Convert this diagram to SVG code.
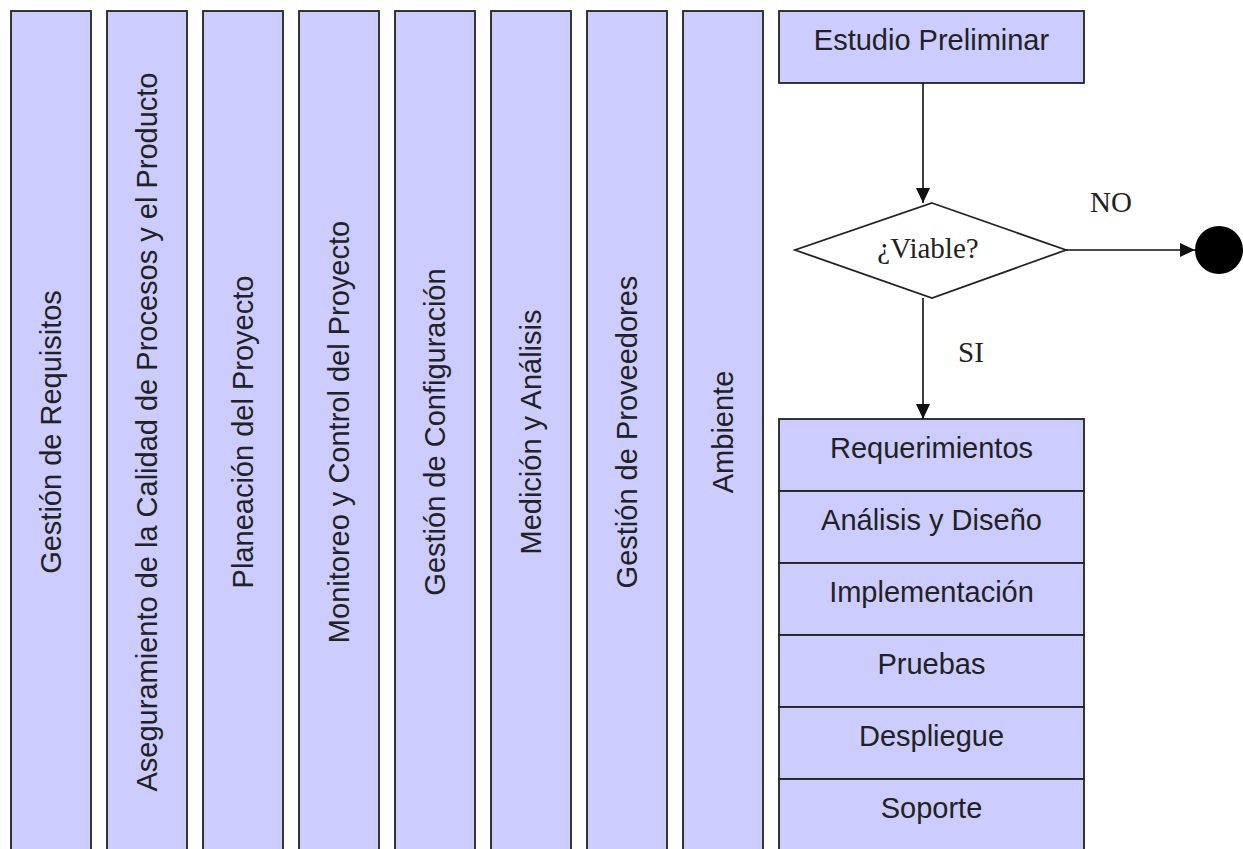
<svg xmlns="http://www.w3.org/2000/svg" width="1243" height="849" viewBox="0 0 1243 849">
<style>
.box{fill:#ccccff;stroke:#222;stroke-width:1.8}
.lbl{font-family:"Liberation Sans",Arial,sans-serif;font-size:29px;fill:#222;text-anchor:middle}
.ser{font-family:"Liberation Serif","Times New Roman",serif;font-size:29px;fill:#222;text-anchor:middle}
.conn{stroke:#111;stroke-width:1.6;fill:none}
</style>
<defs>
<marker id="arrBig" viewBox="0 0 15 14" refX="15" refY="7" markerWidth="15" markerHeight="14" markerUnits="userSpaceOnUse" orient="auto">
<path d="M0,0 L15,7 L0,14 z" fill="#111"/>
</marker>
</defs>
<rect width="1243" height="849" fill="#fff"/>
<g id="col1"><rect class="box" x="11" y="11" width="80" height="850"/><text class="lbl" transform="translate(61,432) rotate(-90)">Gestión de Requisitos</text></g>
<g id="col2"><rect class="box" x="107" y="11" width="80" height="850"/><text class="lbl" transform="translate(157,432) rotate(-90)">Aseguramiento de la Calidad de Procesos y el Producto</text></g>
<g id="col3"><rect class="box" x="203" y="11" width="80" height="850"/><text class="lbl" transform="translate(253,432) rotate(-90)">Planeación del Proyecto</text></g>
<g id="col4"><rect class="box" x="299" y="11" width="80" height="850"/><text class="lbl" transform="translate(349,432) rotate(-90)">Monitoreo y Control del Proyecto</text></g>
<g id="col5"><rect class="box" x="395" y="11" width="80" height="850"/><text class="lbl" transform="translate(445,432) rotate(-90)">Gestión de Configuración</text></g>
<g id="col6"><rect class="box" x="491" y="11" width="80" height="850"/><text class="lbl" transform="translate(541,432) rotate(-90)">Medición y Análisis</text></g>
<g id="col7"><rect class="box" x="587" y="11" width="80" height="850"/><text class="lbl" transform="translate(637,432) rotate(-90)">Gestión de Proveedores</text></g>
<g id="col8"><rect class="box" x="683" y="11" width="80" height="850"/><text class="lbl" transform="translate(733,432) rotate(-90)">Ambiente</text></g>

<g id="estudio"><rect class="box" x="779" y="11" width="305" height="72"/><text class="lbl" x="931.5" y="50">Estudio Preliminar</text></g>
<g id="viable"><polygon points="932,203 1066,250 932,298 795,250" fill="#fff" stroke="#222" stroke-width="1.8"/><text class="ser" x="928" y="258">¿Viable?</text></g>
<g id="fin"><circle cx="1219" cy="250" r="24" fill="#000"/></g>

<g id="req"><rect class="box" x="779" y="419" width="305" height="72"/><text class="lbl" x="931.5" y="458">Requerimientos</text></g>
<g id="ana"><rect class="box" x="779" y="491" width="305" height="72"/><text class="lbl" x="931.5" y="530">Análisis y Diseño</text></g>
<g id="imp"><rect class="box" x="779" y="563" width="305" height="72"/><text class="lbl" x="931.5" y="602">Implementación</text></g>
<g id="pru"><rect class="box" x="779" y="635" width="305" height="72"/><text class="lbl" x="931.5" y="674">Pruebas</text></g>
<g id="des"><rect class="box" x="779" y="707" width="305" height="72"/><text class="lbl" x="931.5" y="746">Despliegue</text></g>
<g id="sop"><rect class="box" x="779" y="779" width="305" height="80"/><text class="lbl" x="931.5" y="818">Soporte</text></g>

<g id="connectors">
<line class="conn" x1="923" y1="83" x2="923" y2="203" marker-end="url(#arrBig)"/>
<line class="conn" x1="1066" y1="250" x2="1195" y2="250" marker-end="url(#arrBig)"/>
<line class="conn" x1="923" y1="298" x2="923" y2="419" marker-end="url(#arrBig)"/>
<text class="ser" x="1111" y="212">NO</text>
<text class="ser" x="971" y="362">SI</text>
</g>
</svg>
